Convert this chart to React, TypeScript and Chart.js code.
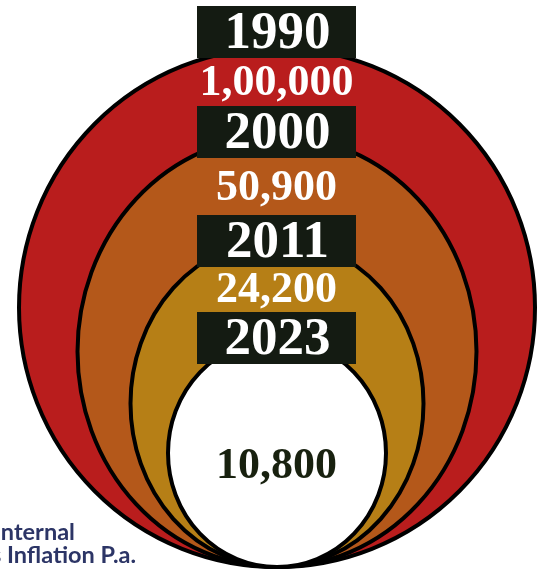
import React, { useEffect, useRef } from "react";
import { Chart, registerables } from "chart.js";

Chart.register(...registerables);

// ---- data ----
const years = ["1990", "2000", "2011", "2023"];
const values = [100000, 50900, 24200, 10800];
const valueLabels = ["1,00,000", "50,900", "24,200", "10,800"];
// ring extents in axis units (half width, height above the common tangent point)
const ringHalfWidth = [258, 199.5, 146.5, 109];
const ringHeight = [519, 431, 327, 228];
const titleLines = ["Internal", "Rs Inflation P.a."];

// ---- styles / layout ----
const ringColors = ["#b91d1d", "#b4581a", "#b67f16", "#ffffff"];
const valueColors = ["#ffffff", "#ffffff", "#ffffff", "#18210f"];
const boxColor = "#141b12";
// label anchors in axis units
const yearBoxTop = [561, 461, 352, 255];
const valueBaseline = [472, 367, 265, 89];
const BOX_HALF_W = 79.5;
const BOX_H = 52;

const X_MIN = -277;
const X_MAX = 272;
const Y_MIN = -2;
const Y_MAX = 567;

const ringPlugin = {
  id: "rings",
  afterDatasetsDraw(chart: any) {
    const { ctx } = chart;
    const xs = chart.scales.x;
    const ys = chart.scales.y;
    ctx.save();
    chart.data.datasets.forEach((ds: any, i: number) => {
      const pt = ds.data[0];
      const left = xs.getPixelForValue(-pt.x);
      const right = xs.getPixelForValue(pt.x);
      const cx = xs.getPixelForValue(0);
      const bottom = ys.getPixelForValue(0);
      const top = ys.getPixelForValue(pt.y);
      ctx.beginPath();
      ctx.ellipse(cx, (top + bottom) / 2, (right - left) / 2, (bottom - top) / 2, 0, 0, Math.PI * 2);
      ctx.fillStyle = ringColors[i];
      ctx.fill();
      ctx.lineWidth = 4;
      ctx.strokeStyle = "#000000";
      ctx.stroke();
    });

    const cx = xs.getPixelForValue(-0.5);
    ctx.textAlign = "center";
    ctx.textBaseline = "alphabetic";
    years.forEach((yr, i) => {
      const bt = ys.getPixelForValue(yearBoxTop[i]);
      const bl = xs.getPixelForValue(-0.5 - BOX_HALF_W);
      const br = xs.getPixelForValue(-0.5 + BOX_HALF_W);
      ctx.fillStyle = boxColor;
      ctx.fillRect(bl, bt, br - bl, BOX_H);
      ctx.fillStyle = "#ffffff";
      ctx.font = "bold 53px 'Liberation Serif', serif";
      ctx.fillText(yr, cx + 1, bt + 42);
    });
    valueLabels.forEach((lab, i) => {
      ctx.fillStyle = valueColors[i];
      ctx.font = "bold 44px 'Liberation Serif', serif";
      ctx.fillText(lab, cx, ys.getPixelForValue(valueBaseline[i]));
    });

    // side caption
    ctx.textAlign = "left";
    ctx.fillStyle = "#2c3566";
    ctx.font = "bold 23.5px Lato, sans-serif";
    const pre0 = ctx.measureText("I").width;
    ctx.fillText(titleLines[0], -pre0 + 1, 540);
    const pre = ctx.measureText("Rs ").width;
    ctx.fillText(titleLines[1], 7 - pre, 563);
    ctx.restore();
  },
};

export default function App() {
  const ref = useRef<HTMLCanvasElement>(null);
  useEffect(() => {
    const chart = new Chart(ref.current as HTMLCanvasElement, {
      type: "scatter",
      data: {
        datasets: years.map((yr, i) => ({
          label: `${yr}: ${values[i]}`,
          data: [{ x: ringHalfWidth[i], y: ringHeight[i] }],
          pointRadius: 0,
          pointHoverRadius: 0,
        })),
      },
      options: {
        responsive: false,
        animation: false,
        layout: { padding: 0 },
        plugins: { legend: { display: false }, tooltip: { enabled: false } },
        scales: {
          x: { type: "linear", display: false, min: X_MIN, max: X_MAX },
          y: { type: "linear", display: false, min: Y_MIN, max: Y_MAX },
        },
      },
      plugins: [ringPlugin],
    });
    return () => chart.destroy();
  }, []);
  return (
    <div style={{ position: "absolute", left: 0, top: 0, width: 549, height: 569, background: "#ffffff" }}>
      <canvas ref={ref} width={549} height={569} style={{ display: "block" }} />
    </div>
  );
}
